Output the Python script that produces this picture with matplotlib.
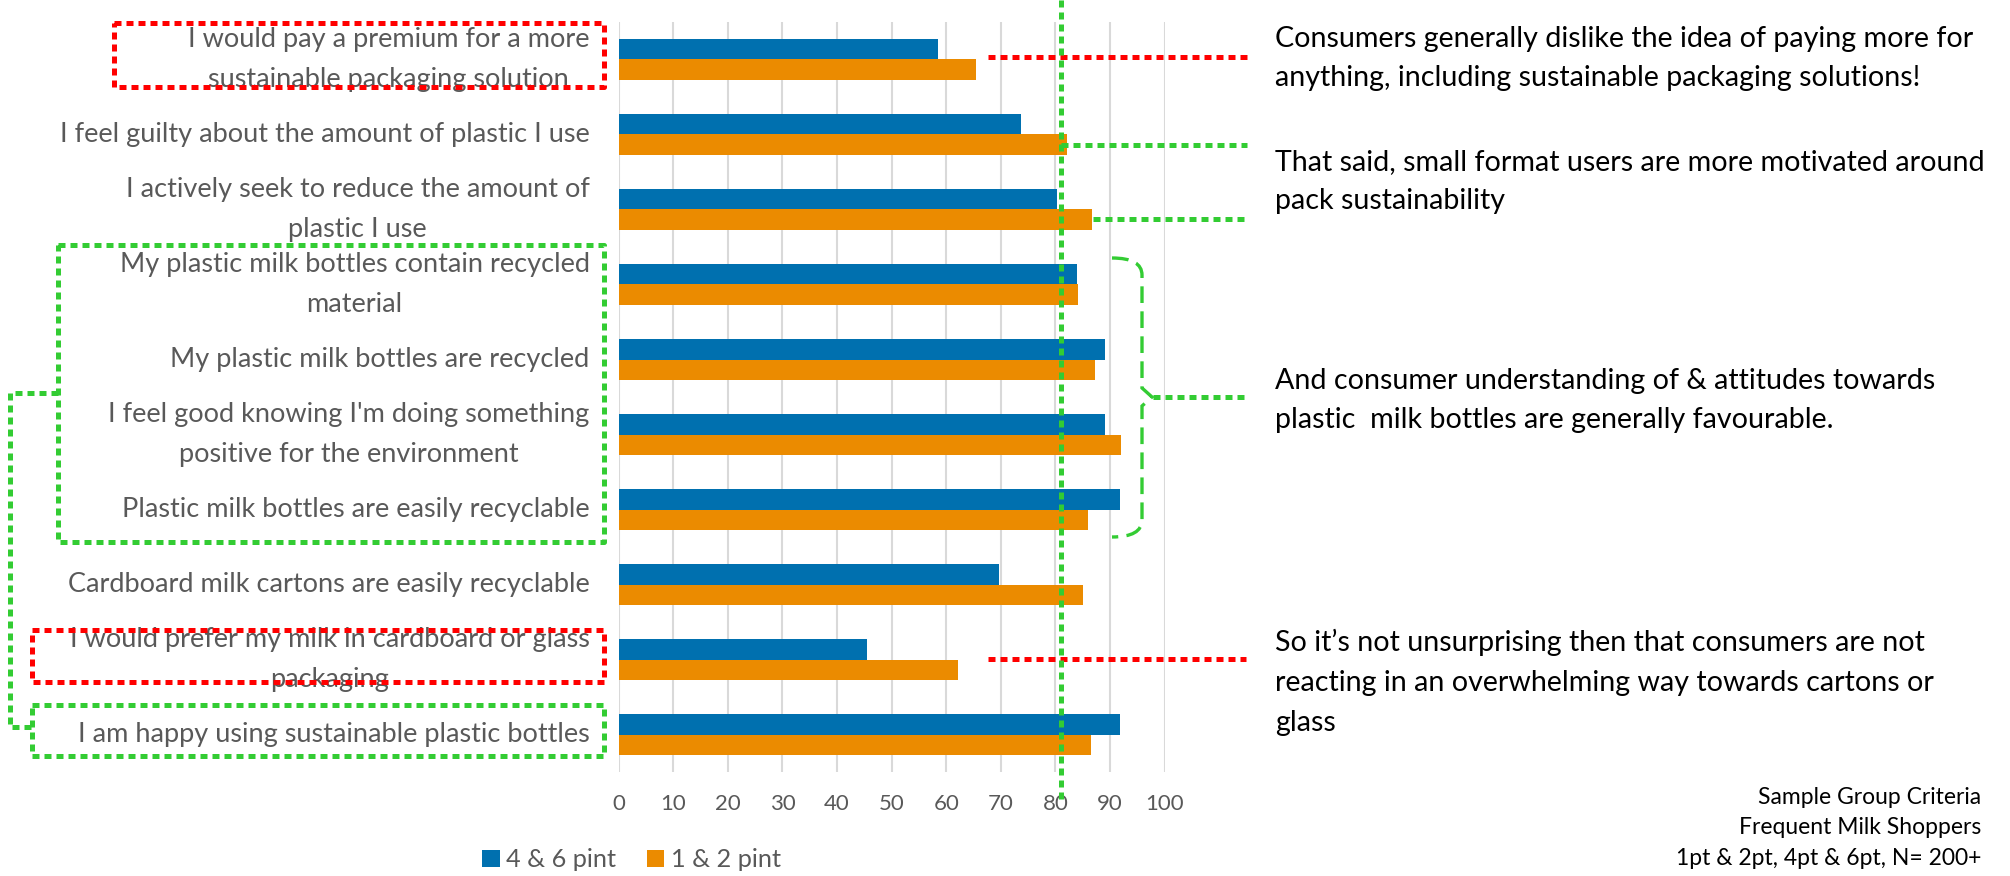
import matplotlib
matplotlib.use('Agg')
from matplotlib import pyplot as plt
from matplotlib.path import Path
from matplotlib.patches import PathPatch
import numpy as np

plt.rcParams['font.family'] = ['Lato', 'DejaVu Sans']

statements = [
    'I would pay a premium for a more\nsustainable packaging solution',
    'I feel guilty about the amount of plastic I use',
    'I actively seek to reduce the amount of\nplastic I use',
    'My plastic milk bottles contain recycled\nmaterial',
    'My plastic milk bottles are recycled',
    "I feel good knowing I'm doing something\npositive for the environment",
    'Plastic milk bottles are easily recyclable',
    'Cardboard milk cartons are easily recyclable',
    'I would prefer my milk in cardboard or glass\npackaging',
    'I am happy using sustainable plastic bottles',
]
four_six_pint = [58.5, 73.7, 80.2, 84.0, 89.1, 89.1, 91.8, 69.7, 45.5, 91.8]
one_two_pint = [65.4, 82.2, 86.7, 84.2, 87.2, 92.1, 86.0, 85.1, 62.1, 86.6]
series_names = ['4 & 6 pint', '1 & 2 pint']
x_ticks = list(range(0, 101, 10))

notes = [
    'Consumers generally dislike the idea of paying more for\nanything, including sustainable packaging solutions!',
    'That said, small format users are more motivated around\npack sustainability',
    'And consumer understanding of & attitudes towards\nplastic  milk bottles are generally favourable.',
    'So it\u2019s not unsurprising then that consumers are not\nreacting in an overwhelming way towards cartons or\nglass',
]
sample_note = 'Sample Group Criteria\nFrequent Milk Shoppers\n1pt & 2pt, 4pt & 6pt, N= 200+'

BLUE = '#0070AF'
ORANGE = '#EB8B00'
GREY = '#595959'
RED = '#FF0000'
GREEN = '#33CC33'

fig = plt.figure(figsize=(20.1, 8.76), dpi=100)
ax = fig.add_axes([0.3078, 0.1187, 0.2716, 0.8562])

pos = np.arange(len(statements))
h = 0.267
b1 = ax.barh(pos - h / 2, four_six_pint, height=h, color=BLUE, label=series_names[0])
b2 = ax.barh(pos + h / 2, one_two_pint, height=h, color=ORANGE, label=series_names[1])

ax.set_xlim(0, 100)
ax.set_ylim(len(statements) - 0.5, -0.5)
ax.set_xticks(x_ticks)
ax.set_yticks(pos)
ax.set_yticklabels(statements, fontsize=19.5, color=GREY, linespacing=1.72)
for lbl in ax.get_yticklabels():
    lbl.set_multialignment('center')
    lbl.set_verticalalignment('center')
ax.tick_params(axis='x', length=0, labelsize=16, labelcolor=GREY, pad=16)
ax.tick_params(axis='y', length=0, pad=21)
ax.grid(axis='x', color='#D9D9D9', lw=1.5)
ax.set_axisbelow(True)
for s in ax.spines.values():
    s.set_visible(False)

fig.legend([b1, b2], series_names, loc='center', bbox_to_anchor=(0.3142, 0.0183),
           ncol=2, frameon=False, fontsize=18.2, handlelength=0.7, handleheight=0.7,
           handletextpad=0.25, columnspacing=1.2, borderpad=0, labelcolor=GREY)

# annotation layer in pixel coordinates
ov = fig.add_axes([0, 0, 1, 1], zorder=5)
ov.set_xlim(0, 2010)
ov.set_ylim(876, 0)
ov.axis('off')
ov.patch.set_alpha(0)

dot = (0, (1.4, 1.0))
lw = 3.6

def box(x0, y0, x1, y1, c):
    ov.plot([x0, x1, x1, x0, x0], [y0, y0, y1, y1, y0], color=c, lw=lw, ls=dot)

box(114, 23, 604, 87, RED)
box(58, 245, 604, 542, GREEN)
box(32, 630, 604, 682, RED)
box(32, 705, 604, 756, GREEN)
ov.plot([58, 10, 10, 32], [393, 393, 727, 727], color=GREEN, lw=lw, ls=dot)

ov.plot([988, 1247], [57, 57], color=RED, lw=lw, ls=dot)
ov.plot([988, 1246], [659, 659], color=RED, lw=lw, ls=dot)
ov.plot([1061, 1061], [0, 803], color=GREEN, lw=lw, ls=dot)
ov.plot([1061, 1247], [145, 145], color=GREEN, lw=lw, ls=dot)
ov.plot([1093, 1247], [219, 219], color=GREEN, lw=lw, ls=dot)
ov.plot([1153, 1247], [397, 397], color=GREEN, lw=lw, ls=dot)

verts = [(1112, 258), (1142, 258), (1142, 275), (1142, 388), (1152, 397),
         (1142, 406), (1142, 520), (1142, 537), (1112, 537)]
codes = [Path.MOVETO, Path.CURVE3, Path.CURVE3, Path.LINETO, Path.LINETO,
         Path.LINETO, Path.LINETO, Path.CURVE3, Path.CURVE3]
ov.add_patch(PathPatch(Path(verts, codes), fill=False, edgecolor=GREEN, lw=2.4,
                       ls=(0, (5, 2.5))))

for txt, yc in zip(notes, [58.5, 181.5, 400.5, 682.5]):
    ov.text(1275, yc, txt, fontsize=20.6, color='black', va='center', ha='left', linespacing=1.66)
ov.text(1981, 828, sample_note, fontsize=16.5, color='black', va='center', ha='right',
        multialignment='right', linespacing=1.55)

fig.savefig('out.png', dpi=100)
